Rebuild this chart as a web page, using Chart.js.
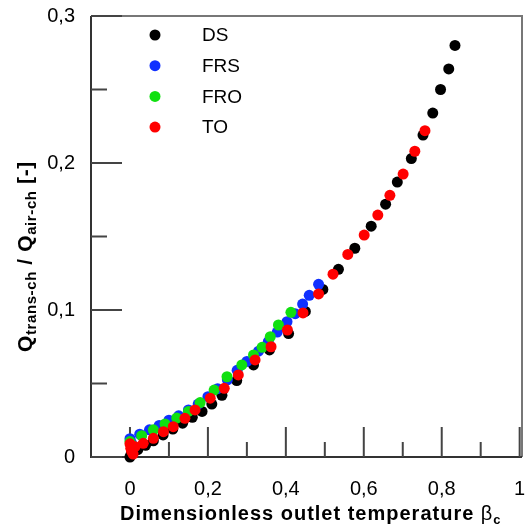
<!DOCTYPE html>
<html>
<head>
<meta charset="utf-8">
<script src="https://cdn.jsdelivr.net/npm/chart.js@4.4.1/dist/chart.umd.min.js"></script>
<style>
html,body{margin:0;padding:0;background:#fff;}
canvas{display:block;}
</style>
</head>
<body>
<canvas id="c" width="528" height="528"></canvas>
<script>
// ---- data ----
const SERIES_LABELS = ['DS', 'FRS', 'FRO', 'TO'];

const DS_X = [0, 0.003, 0.008, 0.02, 0.04, 0.06, 0.085, 0.11, 0.135, 0.16, 0.185, 0.21, 0.236, 0.274, 0.317, 0.358, 0.407, 0.45, 0.495, 0.535, 0.577, 0.619, 0.656, 0.686, 0.722, 0.752, 0.777, 0.797, 0.818, 0.834];
const DS_Y = [0.000, 0.002, 0.004, 0.005, 0.008, 0.011, 0.015, 0.019, 0.023, 0.027, 0.031, 0.036, 0.042, 0.052, 0.0626, 0.0728, 0.084, 0.099, 0.114, 0.1277, 0.142, 0.157, 0.172, 0.187, 0.203, 0.219, 0.234, 0.250, 0.264, 0.280];

const FRS_X = [0, 0.003, 0.006, 0.025, 0.05, 0.075, 0.10, 0.125, 0.15, 0.175, 0.20, 0.225, 0.25, 0.275, 0.30, 0.33, 0.355, 0.378, 0.403, 0.424, 0.443, 0.46, 0.484];
const FRS_Y = [0.0125, 0.010, 0.008, 0.0155, 0.0185, 0.0215, 0.025, 0.028, 0.032, 0.036, 0.041, 0.0465, 0.0525, 0.059, 0.065, 0.072, 0.0785, 0.085, 0.092, 0.0975, 0.104, 0.110, 0.1175];

const FRO_X = [0, 0.003, 0.006, 0.03, 0.06, 0.09, 0.12, 0.15, 0.18, 0.216, 0.249, 0.287, 0.317, 0.339, 0.36, 0.381, 0.413];
const FRO_Y = [0.0105, 0.0085, 0.007, 0.0145, 0.0185, 0.0225, 0.0265, 0.031, 0.037, 0.0455, 0.0546, 0.0626, 0.0694, 0.0746, 0.0818, 0.0898, 0.0984];

const TO_X = [0, 0.002, 0.004, 0.008, 0.013, 0.034, 0.06, 0.086, 0.111, 0.141, 0.167, 0.206, 0.242, 0.278, 0.321, 0.362, 0.404, 0.444, 0.484, 0.521, 0.559, 0.601, 0.636, 0.667, 0.701, 0.731, 0.757];
const TO_Y = [0.009, 0.006, 0.004, 0.002, 0.007, 0.0093, 0.0127, 0.0172, 0.0206, 0.0263, 0.032, 0.040, 0.0467, 0.0558, 0.066, 0.075, 0.0864, 0.098, 0.1109, 0.1244, 0.1378, 0.151, 0.1646, 0.178, 0.1925, 0.208, 0.222];

const X_MAJOR_TICKS = [0, 0.2, 0.4, 0.6, 0.8, 1];
const X_TICK_LABELS = ['0', '0,2', '0,4', '0,6', '0,8', '1'];
const X_MINOR_TICKS = [0.1, 0.3, 0.5, 0.7, 0.9];
const Y_MAJOR_TICKS = [0, 0.1, 0.2, 0.3];
const Y_TICK_LABELS = ['0', '0,1', '0,2', '0,3'];
const Y_MINOR_TICKS = [0.05, 0.15, 0.25];

const COLORS = ['#000000', '#1030ff', '#10e010', '#ff0000'];
const FONT = "'Liberation Sans', Arial, sans-serif";

function pts(xs, ys) { return xs.map((x, i) => ({x: x, y: ys[i]})); }

const seriesData = [pts(DS_X, DS_Y), pts(FRS_X, FRS_Y), pts(FRO_X, FRO_Y), pts(TO_X, TO_Y)];
// drawing order: DS bottom, TO on top
const drawOrder = [4, 3, 2, 1];

const datasets = seriesData.map((d, i) => ({
  label: SERIES_LABELS[i],
  data: d,
  order: drawOrder[i],
  pointRadius: 5.5,
  pointHoverRadius: 5.5,
  pointBackgroundColor: COLORS[i],
  pointBorderColor: COLORS[i],
  pointBorderWidth: 0,
  showLine: false,
  clip: false
}));

function zeroPad(s) { s.paddingTop = 0; s.paddingBottom = 0; s.paddingLeft = 0; s.paddingRight = 0; }

const framePlugin = {
  id: 'frame',
  beforeDatasetsDraw(chart) {
    const ctx = chart.ctx, a = chart.chartArea;
    const xs = chart.scales.x, ys = chart.scales.y;
    ctx.save();
    ctx.lineCap = 'butt';
    ctx.strokeStyle = '#777';
    ctx.lineWidth = 2;
    ctx.beginPath();
    ctx.moveTo(a.left, a.top); ctx.lineTo(a.right, a.top); ctx.lineTo(a.right, a.bottom);
    ctx.stroke();
    ctx.strokeStyle = '#333';
    ctx.beginPath();
    ctx.moveTo(a.left, a.top); ctx.lineTo(a.left, a.bottom); ctx.lineTo(a.right, a.bottom);
    ctx.stroke();
    ctx.strokeStyle = '#444';
    ctx.lineWidth = 2;
    ctx.beginPath();
    X_MAJOR_TICKS.forEach(v => { const p = xs.getPixelForValue(v); ctx.moveTo(p, a.bottom); ctx.lineTo(p, a.bottom - 30); });
    X_MINOR_TICKS.forEach(v => { const p = xs.getPixelForValue(v); ctx.moveTo(p, a.bottom); ctx.lineTo(p, a.bottom - 15); });
    Y_MAJOR_TICKS.forEach(v => { const p = ys.getPixelForValue(v); ctx.moveTo(a.left, p); ctx.lineTo(a.left + 31, p); });
    Y_MINOR_TICKS.forEach(v => { const p = ys.getPixelForValue(v); ctx.moveTo(a.left, p); ctx.lineTo(a.left + 16, p); });
    ctx.stroke();
    ctx.restore();
  },
  afterDraw(chart) {
    const ctx = chart.ctx;
    ctx.save();
    chart.data.datasets.forEach((ds, i) => {
      const y = 35 + i * 30.7;
      ctx.fillStyle = ds.pointBackgroundColor;
      ctx.beginPath();
      ctx.arc(155, y, 5.5, 0, Math.PI * 2);
      ctx.fill();
      ctx.fillStyle = '#000';
      ctx.font = '19px ' + FONT;
      ctx.textBaseline = 'middle';
      ctx.textAlign = 'left';
      ctx.fillText(ds.label, 202, y + 1);
    });
    ctx.textBaseline = 'alphabetic';
    ctx.textAlign = 'left';
    ctx.fillStyle = '#000';
    ctx.font = 'bold 20px ' + FONT;
    if ('letterSpacing' in ctx) ctx.letterSpacing = '1px';
    let x = 120;
    const t1 = 'Dimensionless outlet temperature ';
    ctx.fillText(t1, x, 520);
    x += ctx.measureText(t1).width;
    if ('letterSpacing' in ctx) ctx.letterSpacing = '0px';
    ctx.font = '20px ' + FONT;
    ctx.fillText('β', x, 520);
    x += ctx.measureText('β').width + 1;
    ctx.font = 'bold 13px ' + FONT;
    ctx.fillText('c', x, 524);
    ctx.translate(32, 352);
    ctx.rotate(-Math.PI / 2);
    const parts = [['Q', false], ['trans-ch', true], [' / Q', false], ['air-ch', true], [' [-]', false]];
    let px = 0;
    if ('letterSpacing' in ctx) ctx.letterSpacing = '0.6px';
    parts.forEach(([s, sub]) => {
      ctx.font = (sub ? 'bold 15px ' : 'bold 21px ') + FONT;
      ctx.fillText(s, px, sub ? 4 : 0);
      px += ctx.measureText(s).width;
    });
    ctx.restore();
  }
};

new Chart(document.getElementById('c'), {
  type: 'scatter',
  data: { datasets: datasets },
  options: {
    responsive: false,
    animation: false,
    devicePixelRatio: 1,
    layout: { padding: { top: 16, right: 6, left: 0, bottom: 0 } },
    plugins: { legend: { display: false }, tooltip: { enabled: false } },
    scales: {
      x: {
        type: 'linear',
        min: -0.1,
        max: 1.006,
        grid: { display: false, drawTicks: false },
        border: { display: false },
        afterFit(s) { s.height = 71; zeroPad(s); },
        afterBuildTicks(s) { s.ticks = X_MAJOR_TICKS.map(v => ({ value: v })); },
        ticks: {
          padding: 20,
          color: '#000',
          font: { family: FONT, size: 20 },
          maxRotation: 0,
          autoSkip: false,
          callback(v) { const i = X_MAJOR_TICKS.indexOf(v); return i >= 0 ? X_TICK_LABELS[i] : ''; }
        }
      },
      y: {
        type: 'linear',
        min: 0,
        max: 0.3,
        grid: { display: false, drawTicks: false },
        border: { display: false },
        afterFit(s) { s.width = 91; zeroPad(s); },
        afterBuildTicks(s) { s.ticks = Y_MAJOR_TICKS.map(v => ({ value: v })); },
        ticks: {
          padding: 16,
          color: '#000',
          font: { family: FONT, size: 20 },
          autoSkip: false,
          callback(v) { const i = Y_MAJOR_TICKS.indexOf(v); return i >= 0 ? Y_TICK_LABELS[i] : ''; }
        }
      }
    }
  },
  plugins: [framePlugin]
});
</script>
</body>
</html>
